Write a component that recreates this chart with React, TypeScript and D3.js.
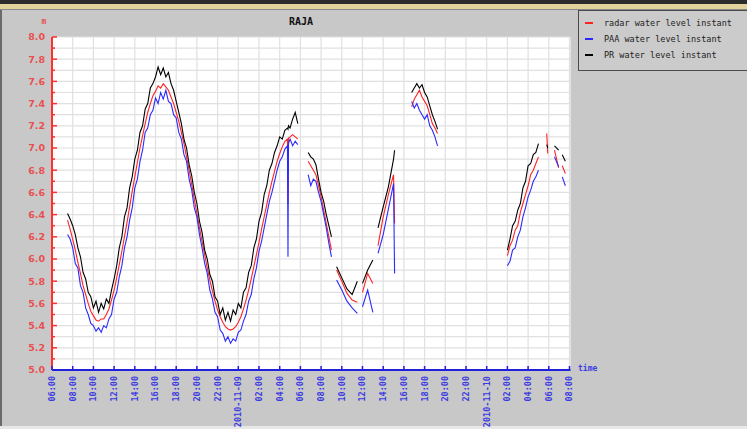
import React from 'react';
import * as d3 from 'd3';

// hours after 2010-11-08 06:00
const hours = [
  1.5, 1.75, 2.0, 2.25, 2.5, 2.75, 3.0, 3.25, 3.5, 3.75,
  4.0, 4.25, 4.5, 4.75, 5.0, 5.25, 5.5, 5.75, 6.0, 6.25,
  6.5, 6.75, 7.0, 7.25, 7.5, 7.75, 8.0, 8.25, 8.5, 8.75,
  9.0, 9.25, 9.5, 9.75, 10.0, 10.25, 10.5, 10.75, 11.0, 11.25,
  11.5, 11.75, 12.0, 12.25, 12.5, 12.75, 13.0, 13.25, 13.5, 13.75,
  14.0, 14.25, 14.5, 14.75, 15.0, 15.25, 15.5, 15.75, 16.0, 16.25,
  16.5, 16.75, 17.0, 17.25, 17.5, 17.75, 18.0, 18.25, 18.5, 18.75,
  19.0, 19.25, 19.5, 19.75, 20.0, 20.25, 20.5, 20.75, 21.0, 21.25,
  21.5, 21.75, 22.0, 22.25, 22.5,
  22.75, 22.8, 22.85, 23.0, 23.25, 23.5, 23.75, 24.25,
  24.75, 25.0, 25.25, 25.5, 25.75, 26.0, 26.25, 26.5, 26.75, 27.0, 27.25,
  27.5, 28.0, 28.5, 29.0, 29.5, 29.75,
  30.0, 30.5, 31.0, 31.25,
  31.5, 32.0, 32.5, 33.0, 33.1, 33.5,
  34.75, 35.0, 35.25, 35.5, 35.75, 36.0, 36.25, 36.5, 36.75, 37.0, 37.25, 37.5,
  44.0, 44.25, 44.5, 44.75, 45.0, 45.25, 45.5, 45.75, 46.0, 46.25, 46.5, 46.75, 47.0, 47.5,
  47.8, 47.9, 48.2, 48.55, 48.95, 49.15, 49.3, 49.6,
];

const radar: (number | null)[] = [
  6.35, 6.27, 6.18, 6.08, 5.97, 5.87, 5.76, 5.68, 5.60, 5.53,
  5.49, 5.45, 5.44, 5.46, 5.46, 5.50, 5.55, 5.63, 5.72, 5.83,
  5.95, 6.07, 6.20, 6.33, 6.47, 6.61, 6.74, 6.87, 7.00, 7.11,
  7.22, 7.32, 7.40, 7.47, 7.51, 7.56, 7.54, 7.58, 7.55, 7.52,
  7.46, 7.40, 7.32, 7.24, 7.14, 7.04, 6.92, 6.80, 6.67, 6.54,
  6.41, 6.28, 6.16, 6.04, 5.92, 5.81, 5.71, 5.62, 5.54, 5.48,
  5.43, 5.39, 5.37, 5.36, 5.37, 5.39, 5.43, 5.48, 5.55, 5.63,
  5.72, 5.82, 5.93, 6.04, 6.15, 6.27, 6.38, 6.49, 6.60, 6.70,
  6.79, 6.88, 6.95, 7.01, 7.06,
  7.08, 6.50, 7.09, 7.10, 7.12, 7.10, 7.08, null,
  6.88, 6.84, 6.80, 6.76, 6.66, 6.56, 6.44, 6.32, 6.20, 6.08, null,
  5.90, 5.80, 5.69, 5.63, 5.61, null,
  5.70, 5.87, 5.78, null,
  6.12, 6.38, 6.58, 6.76, 6.32, null,
  7.37, 7.44, 7.48, 7.52, 7.46, 7.42, 7.38, 7.30, 7.22, 7.18, 7.13, null,
  6.03, 6.12, 6.17, 6.26, 6.30, 6.42, 6.50, 6.58, 6.66, 6.76, 6.80, 6.86, 6.92, null,
  7.13, 6.95, null, 6.98, 6.82, null, 6.84, 6.77,
];

const paa: (number | null)[] = [
  6.22, 6.18, 6.10, 5.96, 5.92, 5.76, 5.70, 5.56, 5.50, 5.42,
  5.40, 5.35, 5.38, 5.34, 5.40, 5.38, 5.46, 5.50, 5.64, 5.70,
  5.84, 5.94, 6.10, 6.20, 6.35, 6.46, 6.64, 6.72, 6.88, 6.98,
  7.14, 7.18, 7.30, 7.34, 7.45, 7.40, 7.50, 7.44, 7.52, 7.42,
  7.40, 7.30, 7.27, 7.14, 7.08, 6.94, 6.88, 6.72, 6.62, 6.46,
  6.38, 6.22, 6.10, 5.96, 5.87, 5.72, 5.64, 5.52, 5.48, 5.36,
  5.33, 5.26, 5.30, 5.24, 5.28, 5.26, 5.34, 5.36, 5.44, 5.50,
  5.62, 5.68, 5.82, 5.92, 6.07, 6.16, 6.28, 6.40, 6.52, 6.60,
  6.70, 6.80, 6.88, 6.92, 6.99,
  7.02, 6.02, 7.04, 7.08, 7.02, 7.06, 7.03, null,
  6.76, 6.66, 6.72, 6.70, 6.60, 6.52, 6.40, 6.28, 6.14, 6.02, null,
  5.81, 5.72, 5.62, 5.56, 5.51, null,
  5.57, 5.72, 5.52, null,
  6.05, 6.22, 6.45, 6.68, 5.87, null,
  7.42, 7.36, 7.40, 7.34, 7.30, 7.26, 7.30, 7.20, 7.16, 7.10, 7.02, null,
  5.94, 5.98, 6.08, 6.10, 6.20, 6.26, 6.38, 6.46, 6.56, 6.62, 6.70, 6.74, 6.80, null,
  null, null, null, 6.92, 6.83, null, 6.74, 6.66,
];

const pr: (number | null)[] = [
  6.41, 6.36, 6.30, 6.22, 6.10, 6.02, 5.88, 5.82, 5.70, 5.66,
  5.56, 5.62, 5.52, 5.60, 5.55, 5.64, 5.60, 5.72, 5.82, 5.94,
  6.10, 6.20, 6.38, 6.46, 6.64, 6.74, 6.90, 6.98, 7.14, 7.20,
  7.35, 7.40, 7.54, 7.58, 7.64, 7.73, 7.66, 7.72, 7.64, 7.68,
  7.58, 7.52, 7.42, 7.32, 7.22, 7.08, 7.00, 6.85, 6.75, 6.60,
  6.50, 6.34, 6.24, 6.08, 6.00, 5.86, 5.80, 5.66, 5.62, 5.50,
  5.56, 5.45, 5.52, 5.44, 5.54, 5.50, 5.60, 5.56, 5.70, 5.74,
  5.88, 5.94, 6.10, 6.18, 6.34, 6.42, 6.58, 6.66, 6.80, 6.86,
  6.96, 7.02, 7.10, 7.08, 7.16,
  7.18, 7.17, 7.20, 7.18, 7.26, 7.32, 7.22, null,
  6.96, 6.92, 6.90, 6.85, 6.72, 6.60, 6.52, 6.40, 6.30, 6.20, null,
  5.93, 5.83, 5.73, 5.68, 5.80, null,
  5.78, 5.90, 5.99, null,
  6.28, 6.47, 6.65, 6.90, 6.98, null,
  7.50, 7.54, 7.58, 7.54, 7.57, 7.50, 7.46, 7.38, 7.30, 7.24, 7.17, null,
  6.08, 6.18, 6.30, 6.34, 6.44, 6.50, 6.64, 6.70, 6.84, 6.86, 6.94, 6.96, 7.04, null,
  7.03, 7.00, null, 7.02, 6.98, null, 6.94, 6.88,
];

const seriesNames = ['radar water level instant', 'PAA water level instant', 'PR water level instant'];
const seriesColors = ['#ff2222', '#2a2aff', '#000000'];
const yTickValues = [5.0, 5.2, 5.4, 5.6, 5.8, 6.0, 6.2, 6.4, 6.6, 6.8, 7.0, 7.2, 7.4, 7.6, 7.8, 8.0];

const START = new Date(2010, 10, 8, 6, 0);
const END = new Date(2010, 10, 10, 8, 0);

const L = 52, R = 569.5, T = 37, B = 370;

export default function App() {
  const x = d3.scaleTime().domain([START, END]).range([L, R]);
  const y = d3.scaleLinear().domain([5, 8]).range([B, T]);
  const toDate = (h: number) => new Date(START.getTime() + h * 3600000);

  const xTicks = x.ticks(d3.timeHour.every(2)!);
  const yMinor = d3.range(50, 81).map((v) => v / 10);
  const fmt = (d: Date) => (d.getHours() === 0 ? d3.timeFormat('%Y-%m-%d')(d) : d3.timeFormat('%H:%M')(d));

  const makePath = (vals: (number | null)[]) =>
    d3
      .line<number>()
      .defined((i) => vals[i] != null)
      .x((i) => x(toDate(hours[i])))
      .y((i) => y(vals[i] as number))(hours.map((_, i) => i)) || '';

  const all = [radar, paa, pr];
  const mono = '"DejaVu Sans Mono", monospace';

  return (
    <svg width={747} height={429} style={{ position: 'absolute', left: 0, top: 0 }}>
      <rect x={0} y={0} width={747} height={429} fill="#c8c8c8" />
      <rect x={0} y={0} width={747} height={4} fill="#2c2c2c" />
      <rect x={0} y={4} width={747} height={5} fill="#e2d29c" />
      <rect x={0} y={9} width={747} height={1} fill="#8a8a8a" />
      <rect x={0} y={10} width={2} height={419} fill="#6a6a6a" />
      <rect x={0} y={426} width={747} height={3} fill="#e8e8e8" />

      <rect x={L} y={T} width={R - L + 1} height={B - T} fill="#ffffff" />
      {yMinor.map((v) => (
        <line key={'gy' + v} x1={L} x2={R} y1={y(v)} y2={y(v)} stroke="#e0e0e0" strokeWidth={1.2} />
      ))}
      {xTicks.map((d) => (
        <line key={'gx' + d.getTime()} x1={x(d)} x2={x(d)} y1={T} y2={B} stroke="#e0e0e0" strokeWidth={1.2} />
      ))}

      {all.map((vals, k) => (
        <path key={k} d={makePath(vals)} fill="none" stroke={seriesColors[k]} strokeWidth={1.1} />
      ))}

      {/* y axis */}
      <line x1={L} x2={L} y1={T} y2={B} stroke="#ff3030" strokeWidth={2} />
      {yMinor.map((v, i) => (
        <line key={'ty' + v} x1={L} x2={L + (i % 2 === 0 ? 5 : 3)} y1={y(v)} y2={y(v)} stroke="#ff3030" strokeWidth={1.5} />
      ))}
      {yTickValues.map((v) => (
        <text key={'ly' + v} x={45} y={y(v)} dy="0.35em" textAnchor="end" fill="#e85050"
          fontFamily='"DejaVu Sans", sans-serif' fontWeight="bold" fontSize={9.5}>
          {v.toFixed(1)}
        </text>
      ))}
      <text x={44} y={24} textAnchor="middle" fill="#e85050" fontFamily={mono} fontWeight="bold" fontSize={8}>m</text>

      {/* x axis */}
      <line x1={L} x2={R + 1} y1={B} y2={B} stroke="#2020dd" strokeWidth={2} />
      {xTicks.map((d) => (
        <line key={'tx' + d.getTime()} x1={x(d)} x2={x(d)} y1={B} y2={B - 4} stroke="#2020dd" strokeWidth={1.5} />
      ))}
      {xTicks.map((d) => (
        <text key={'lx' + d.getTime()} transform={`translate(${x(d)},${B + 6}) rotate(-90)`} textAnchor="end"
          dy="0.35em" fill="#3c3ce0" fontFamily={mono} fontWeight="bold" fontSize={8.5}>
          {fmt(d)}
        </text>
      ))}
      <text x={578} y={371} fill="#3c3ce0" fontFamily={mono} fontWeight="bold" fontSize={8}>time</text>

      {/* title */}
      <text x={301} y={25} textAnchor="middle" fill="#111" fontFamily={mono} fontWeight="bold" fontSize={10}>RAJA</text>

      {/* legend */}
      <rect x={578.5} y={10.5} width={175} height={60} fill="#cbcbcb" stroke="#4a4a4a" strokeWidth={1} />
      {seriesNames.map((n, k) => (
        <g key={n}>
          <line x1={585} x2={593} y1={23 + k * 16} y2={23 + k * 16} stroke={seriesColors[k]} strokeWidth={2} />
          <text x={604} y={26 + k * 16} fill="#222" fontFamily={mono} fontSize={8.5}>{n}</text>
        </g>
      ))}
    </svg>
  );
}
